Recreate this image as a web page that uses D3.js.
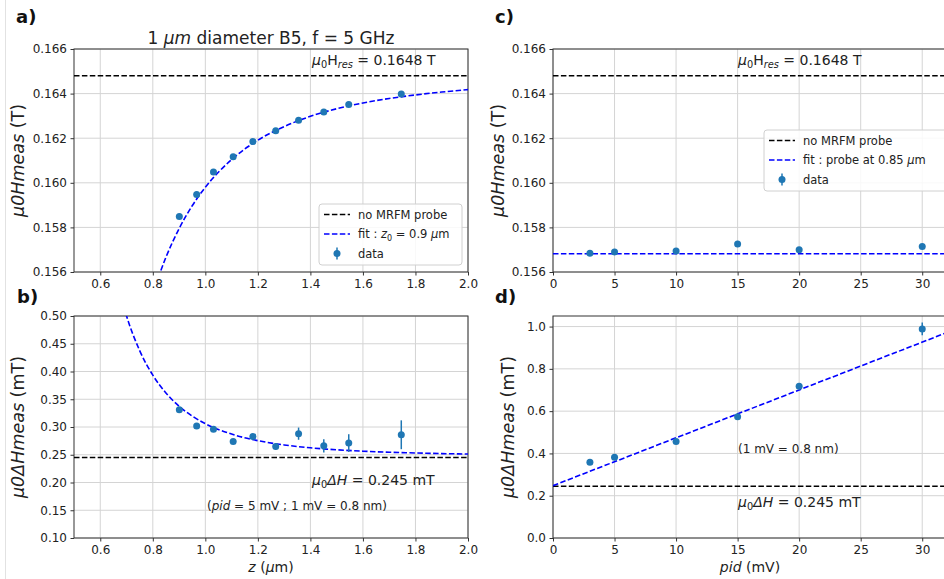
<!DOCTYPE html>
<html><head><meta charset="utf-8">
<script src="https://cdn.jsdelivr.net/npm/d3@7"></script>
<style>body{margin:0;background:#fff} text{font-family:"DejaVu Sans",sans-serif}</style>
</head><body><svg id="c" width="944" height="579"></svg>
<script>
// ---------- data ----------
const zA = [0.901, 0.967, 1.031, 1.106, 1.181, 1.268, 1.355, 1.451, 1.546, 1.746];
const hMeasA = [0.15849, 0.15948, 0.16048, 0.16117, 0.16185, 0.16233, 0.16281, 0.16317, 0.16351, 0.16398];
const hErrA = [0.00004, 0.00004, 0.00004, 0.00004, 0.00004, 0.00004, 0.00004, 0.00004, 0.00004, 0.00004];
const fitZA = [0.82, 0.85, 0.9, 0.95, 1.0, 1.1, 1.2, 1.3, 1.4, 1.5, 1.6, 1.7, 1.8, 1.9, 2.0];
const fitHA = [0.15573, 0.15666, 0.15794, 0.15897, 0.15980, 0.16104, 0.16191, 0.16252, 0.16298, 0.16332, 0.16358, 0.16378, 0.16394, 0.16407, 0.16418];
const dHMeasB = [0.331, 0.302, 0.296, 0.274, 0.283, 0.265, 0.288, 0.266, 0.271, 0.286];
const dHErrB = [0.005, 0.003, 0.003, 0.003, 0.005, 0.006, 0.011, 0.012, 0.016, 0.026];
const fitZB = [0.68, 0.7, 0.75, 0.8, 0.85, 0.9, 0.95, 1.0, 1.1, 1.2, 1.3, 1.4, 1.5, 1.6, 1.7, 1.8, 1.9, 2.0];
const fitDHB = [0.532, 0.500, 0.4377, 0.3934, 0.3613, 0.3375, 0.3197, 0.306, 0.2872, 0.2754, 0.2677, 0.2625, 0.2589, 0.2564, 0.2545, 0.2532, 0.2521, 0.2513];
const pidC = [3, 5, 10, 15, 20, 30];
const hMeasC = [0.15684, 0.15690, 0.15694, 0.15726, 0.15700, 0.15714];
const hErrC = [0.00004, 0.00004, 0.00004, 0.00004, 0.00004, 0.00004];
const fitHC = 0.15682;
const dHMeasD = [0.358, 0.382, 0.457, 0.573, 0.718, 0.989];
const dHErrD = [0.005, 0.006, 0.008, 0.008, 0.012, 0.03];
const fitPidD = [0, 32.5];
const fitDHD = [0.2476, 0.983];
const hRes = 0.1648;
const dH0 = 0.245;
const ticksZ = [0.6, 0.8, 1.0, 1.2, 1.4, 1.6, 1.8, 2.0];
const ticksH = [0.156, 0.158, 0.160, 0.162, 0.164, 0.166];
const ticksDHB = [0.10, 0.15, 0.20, 0.25, 0.30, 0.35, 0.40, 0.45, 0.50];
const ticksPid = [0, 5, 10, 15, 20, 25, 30];
const ticksDHD = [0.0, 0.2, 0.4, 0.6, 0.8, 1.0];

// ---------- drawing ----------
const svg = d3.select('#c');
svg.append('rect').attr('width', 944).attr('height', 579).attr('fill', '#fff');
svg.append('line').attr('x1', 5.5).attr('x2', 5.5).attr('y1', 0).attr('y2', 579)
  .attr('stroke', '#e2e2e2').attr('stroke-width', 1);

const BLUE = '#1f77b4';
let clipN = 0;

function panel(o) {
  const x = d3.scaleLinear().domain(o.xd).range([o.l, o.r]);
  const y = d3.scaleLinear().domain(o.yd).range([o.b, o.t]);
  const g = svg.append('g');
  const id = 'clip' + (clipN++);
  svg.append('clipPath').attr('id', id).append('rect')
    .attr('x', o.l).attr('y', o.t).attr('width', o.r - o.l).attr('height', o.b - o.t);
  // grid
  const grid = g.append('g').attr('stroke', '#d4d4d4').attr('stroke-width', 1);
  o.xt.forEach(v => grid.append('line').attr('x1', x(v)).attr('x2', x(v)).attr('y1', o.t).attr('y2', o.b));
  o.yt.forEach(v => grid.append('line').attr('x1', o.l).attr('x2', o.r).attr('y1', y(v)).attr('y2', y(v)));
  // axes
  const ax = g.append('g').attr('transform', `translate(0,${o.b})`)
    .call(d3.axisBottom(x).tickValues(o.xt).tickFormat(o.xf).tickSize(3.5).tickPadding(3.5));
  const ay = g.append('g').attr('transform', `translate(${o.l},0)`)
    .call(d3.axisLeft(y).tickValues(o.yt).tickFormat(o.yf).tickSize(3.5).tickPadding(3.5));
  [ax, ay].forEach(a => {
    a.select('.domain').remove();
    a.selectAll('line').attr('stroke', '#333');
    a.selectAll('text').attr('font-size', 12).attr('fill', '#222').attr('font-family', 'DejaVu Sans');
  });
  // spines
  g.append('rect').attr('x', o.l).attr('y', o.t).attr('width', o.r - o.l).attr('height', o.b - o.t)
    .attr('fill', 'none').attr('stroke', '#333').attr('stroke-width', 1);
  const plot = svg.append('g').attr('clip-path', `url(#${id})`);
  return {x, y, plot, o};
}

function hline(p, v, color) {
  p.plot.append('line').attr('x1', p.o.l).attr('x2', p.o.r).attr('y1', p.y(v)).attr('y2', p.y(v))
    .attr('stroke', color).attr('stroke-width', 1.6).attr('stroke-dasharray', '5.5,2.4');
}
function curve(p, xs, ys) {
  const pts = xs.map((v, i) => [v, ys[i]]);
  p.plot.append('path').datum(pts)
    .attr('d', d3.line().x(d => p.x(d[0])).y(d => p.y(d[1])).curve(d3.curveMonotoneX))
    .attr('fill', 'none').attr('stroke', '#0000ff').attr('stroke-width', 1.6)
    .attr('stroke-dasharray', '5.5,2.4');
}
function points(p, xs, ys, es) {
  const gg = p.plot.append('g');
  xs.forEach((v, i) => {
    gg.append('line').attr('x1', p.x(v)).attr('x2', p.x(v))
      .attr('y1', p.y(ys[i] - es[i])).attr('y2', p.y(ys[i] + es[i]))
      .attr('stroke', BLUE).attr('stroke-width', 1.5);
    gg.append('circle').attr('cx', p.x(v)).attr('cy', p.y(ys[i])).attr('r', 3.5).attr('fill', BLUE);
  });
}
// rich text: parts [text, {italic, sub}]
function rich(parent, x, y, size, parts, anchor, transform) {
  const t = parent.append('text').attr('x', x).attr('y', y).attr('font-size', size)
    .attr('fill', '#222').attr('text-anchor', anchor || 'start');
  if (transform) t.attr('transform', transform);
  let sub = false;
  parts.forEach(pt => {
    const [s, opt] = Array.isArray(pt) ? pt : [pt, {}];
    const ts = t.append('tspan').text(s);
    if (opt.i) ts.attr('font-style', 'italic');
    if (opt.sub && !sub) { ts.attr('dy', size * 0.22).attr('font-size', size * 0.7); sub = true; }
    else if (opt.sub) ts.attr('font-size', size * 0.7);
    else if (sub) { ts.attr('dy', -size * 0.22); sub = false; }
  });
  return t;
}
function legend(x0, y0, w, h, fitParts) {
  const g = svg.append('g');
  g.append('rect').attr('x', x0).attr('y', y0).attr('width', w).attr('height', h).attr('rx', 3)
    .attr('fill', '#fff').attr('fill-opacity', 0.85).attr('stroke', '#d0d0d0');
  const lx = x0 + 5, tx = x0 + 39;
  const rows = [y0 + 10.5, y0 + 30, y0 + 49.5];
  g.append('line').attr('x1', lx).attr('x2', lx + 26).attr('y1', rows[0]).attr('y2', rows[0])
    .attr('stroke', '#000').attr('stroke-width', 1.6).attr('stroke-dasharray', '5.5,2.4');
  g.append('line').attr('x1', lx).attr('x2', lx + 26).attr('y1', rows[1]).attr('y2', rows[1])
    .attr('stroke', '#0000ff').attr('stroke-width', 1.6).attr('stroke-dasharray', '5.5,2.4');
  g.append('line').attr('x1', lx + 13).attr('x2', lx + 13).attr('y1', rows[2] - 6).attr('y2', rows[2] + 6)
    .attr('stroke', BLUE).attr('stroke-width', 1.5);
  g.append('circle').attr('cx', lx + 13).attr('cy', rows[2]).attr('r', 3.5).attr('fill', BLUE);
  rich(g, tx, rows[0] + 4, 11.5, ['no MRFM probe']);
  rich(g, tx, rows[1] + 4, 11.5, fitParts);
  rich(g, tx, rows[2] + 4, 11.5, ['data']);
}

const f1 = d3.format('.1f'), f2 = d3.format('.2f'), f3 = d3.format('.3f'), f0 = d3.format('d');

// ---- panel a ----
const pa = panel({l: 74, r: 468, t: 49, b: 272, xd: [0.5, 2.0], yd: [0.156, 0.166],
  xt: ticksZ, yt: ticksH, xf: f1, yf: f3});
hline(pa, hRes, '#000');
curve(pa, fitZA, fitHA);
points(pa, zA, hMeasA, hErrA);
legend(319, 204, 143, 61, ['fit : ', ['z', {i: 1}], ['0', {sub: 1}], ' = 0.9 ', ['μ', {i: 1}], 'm']);
rich(svg, 312, 65, 14, [['μ', {i: 1}], ['0', {sub: 1}], 'H', ['res', {i: 1, sub: 1}], ' = 0.1648 T']);

// ---- panel b ----
const pb = panel({l: 74, r: 468, t: 316, b: 538, xd: [0.5, 2.0], yd: [0.10, 0.50],
  xt: ticksZ, yt: ticksDHB, xf: f1, yf: f2});
hline(pb, dH0, '#000');
curve(pb, fitZB, fitDHB);
points(pb, zA, dHMeasB, dHErrB);
rich(svg, 312, 485, 14, [['μ', {i: 1}], ['0', {sub: 1}], ['ΔH', {i: 1}], ' = 0.245 mT']);
rich(svg, 207, 510, 12, ['(', ['pid', {i: 1}], ' = 5 mV ; 1 mV = 0.8 nm)']);
rich(svg, 271, 572, 14, [['z', {i: 1}], ' (', ['μ', {i: 1}], 'm)'], 'middle');

// ---- panel c ----
const pc = panel({l: 553, r: 953, t: 49, b: 272, xd: [0, 32.5], yd: [0.156, 0.166],
  xt: ticksPid, yt: ticksH, xf: f0, yf: f3});
hline(pc, hRes, '#000');
hline(pc, fitHC, '#0000ff');
points(pc, pidC, hMeasC, hErrC);
legend(764, 130, 185, 61, ['fit : probe at 0.85 ', ['μ', {i: 1}], 'm']);
rich(svg, 738, 65, 14, [['μ', {i: 1}], ['0', {sub: 1}], 'H', ['res', {i: 1, sub: 1}], ' = 0.1648 T']);

// ---- panel d ----
const pd = panel({l: 553, r: 953, t: 316, b: 538, xd: [0, 32.5], yd: [0, 1.05],
  xt: ticksPid, yt: ticksDHD, xf: f0, yf: f1});
hline(pd, dH0, '#000');
curve(pd, fitPidD, fitDHD);
points(pd, pidC, dHMeasD, dHErrD);
rich(svg, 738, 453, 12, ['(1 mV = 0.8 nm)']);
rich(svg, 738, 507, 14, [['μ', {i: 1}], ['0', {sub: 1}], ['ΔH', {i: 1}], ' = 0.245 mT']);
rich(svg, 750, 572, 14, [['pid', {i: 1}], ' (mV)'], 'middle');

// ---- y labels ----
rich(svg, 0, 0, 17.5, [['μ0Hmeas', {i: 1}], ' (T)'], 'middle', 'translate(24,160.5) rotate(-90)');
rich(svg, 0, 0, 17.5, [['μ0ΔHmeas', {i: 1}], ' (mT)'], 'middle', 'translate(24,427) rotate(-90)');
rich(svg, 0, 0, 17.5, [['μ0Hmeas', {i: 1}], ' (T)'], 'middle', 'translate(504,160.5) rotate(-90)');
rich(svg, 0, 0, 17.5, [['μ0ΔHmeas', {i: 1}], ' (mT)'], 'middle', 'translate(514,427) rotate(-90)');

// ---- titles ----
rich(svg, 271, 44, 17, ['1 ', ['μm', {i: 1}], ' diameter B5, f = 5 GHz'], 'middle');
[['a)', 16, 23], ['b)', 17, 303], ['c)', 495, 23], ['d)', 495, 303]].forEach(([s, x, y]) =>
  svg.append('text').attr('x', x).attr('y', y).attr('font-size', 18).attr('font-weight', 'bold')
    .attr('fill', '#111').text(s));
</script></body></html>
